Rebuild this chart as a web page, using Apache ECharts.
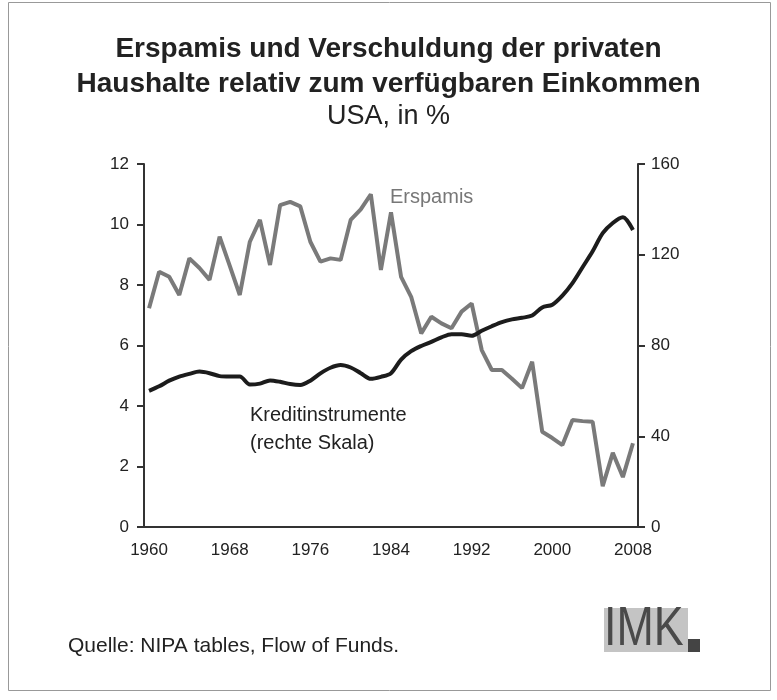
<!DOCTYPE html>
<html>
<head>
<meta charset="utf-8">
<script src="https://cdn.jsdelivr.net/npm/echarts@6/dist/echarts.min.js"></script>
<style>
  html, body { margin: 0; padding: 0; background: #fff; }
  #chart { width: 777px; height: 700px; }
</style>
</head>
<body>
<div id="chart"></div>
<script>
  // Jahre 1960 - 2008
  const years = [];
  for (let y = 1960; y <= 2008; y++) years.push(String(y));

  // Sparquote, % des verfügbaren Einkommens (linke Skala)
  const erspamis = [
    7.23, 8.44, 8.27, 7.67, 8.88, 8.56, 8.17, 9.6, 8.64, 7.67,
    9.43, 10.15, 8.66, 10.64, 10.75, 10.6, 9.43, 8.77, 8.88, 8.83,
    10.15, 10.5, 11.0, 8.5, 10.4, 8.27, 7.61, 6.4, 6.95, 6.73,
    6.57, 7.12, 7.39, 5.85, 5.19, 5.19, 4.9, 4.59, 5.46, 3.15,
    2.94, 2.71, 3.54, 3.5, 3.48, 1.35, 2.45, 1.65, 2.77
  ];

  // Kreditinstrumente, % des verfügbaren Einkommens (rechte Skala)
  const kredit = [
    60, 62, 64.5, 66.3, 67.5, 68.5, 67.8, 66.5, 66.3, 66.3,
    62.8, 63.2, 64.6, 64, 63, 62.6, 64.5, 67.7, 70.2, 71.4,
    70.3, 67.8, 65.3, 66.2, 67.8, 73.8, 77.5, 79.8, 81.6, 83.6,
    85, 85, 84.3, 86.5, 88.5, 90.3, 91.5, 92.2, 93.2, 96.8,
    98, 102, 107.5, 114.5, 121.5, 129.5, 134, 136.5, 130.9
  ];

  const font = "'Liberation Sans', Arial, sans-serif";
  const ink = '#222';

  const chart = echarts.init(document.getElementById('chart'));

  const option = {
    backgroundColor: '#fff',
    animation: false,
    title: {
      text: 'Erspamis und Verschuldung der privaten\nHaushalte relativ zum verfügbaren Einkommen',
      subtext: 'USA, in %',
      left: 'center',
      top: 27,
      itemGap: 0,
      textStyle: { fontFamily: font, fontSize: 28, fontWeight: 'bold', color: ink, lineHeight: 35 },
      subtextStyle: { fontFamily: font, fontSize: 27, color: ink, lineHeight: 30 }
    },
    grid: { left: 144, right: 139, top: 164, bottom: 173 },
    xAxis: {
      type: 'category',
      data: years,
      boundaryGap: true,
      axisLine: { lineStyle: { color: '#333', width: 2 } },
      axisTick: { interval: 7, length: 7, lineStyle: { color: '#333', width: 2 } },
      axisLabel: { interval: 7, margin: 15, fontFamily: font, fontSize: 17, color: ink }
    },
    yAxis: [
      {
        type: 'value', min: 0, max: 12, interval: 2,
        axisLine: { show: true, lineStyle: { color: '#333', width: 2 } },
        axisTick: { show: true, length: 7, lineStyle: { color: '#333', width: 2 } },
        splitLine: { show: false },
        axisLabel: { margin: 15, fontFamily: font, fontSize: 17, color: ink }
      },
      {
        type: 'value', min: 0, max: 160, interval: 40, position: 'right',
        axisLine: { show: true, lineStyle: { color: '#333', width: 2 } },
        axisTick: { show: true, length: 7, lineStyle: { color: '#333', width: 2 } },
        splitLine: { show: false },
        axisLabel: { margin: 13, fontFamily: font, fontSize: 17, color: ink }
      }
    ],
    series: [
      {
        name: 'Erspamis',
        type: 'line',
        yAxisIndex: 0,
        data: erspamis,
        symbol: 'none',
        lineStyle: { color: '#7a7a7a', width: 4 }
      },
      {
        name: 'Kreditinstrumente',
        type: 'line',
        yAxisIndex: 1,
        data: kredit,
        symbol: 'none',
        smooth: 0.3,
        lineStyle: { color: '#1c1c1c', width: 4 }
      }
    ],
    graphic: [
      { type: 'rect', shape: { x: 8.5, y: 2.5, width: 762, height: 688 }, style: { fill: 'none', stroke: '#999', lineWidth: 1 } },
      { type: 'text', left: 390, top: 187, style: { text: 'Erspamis', fontFamily: font, fontSize: 20, fill: '#777' } },
      { type: 'text', left: 250, top: 401, style: { text: 'Kreditinstrumente\n(rechte Skala)', fontFamily: font, fontSize: 20, lineHeight: 28, fill: ink } },
      { type: 'text', left: 68, top: 636, style: { text: 'Quelle: NIPA tables, Flow of Funds.', fontFamily: font, fontSize: 21, fill: ink } },
      { type: 'rect', shape: { x: 604, y: 608, width: 84, height: 44 }, style: { fill: '#c4c4c4' } },
      { type: 'text', x: 604, y: 602, scaleX: 0.8, style: { text: 'IMK', fontFamily: font, fontSize: 56, fill: '#4a4a4a' } },
      { type: 'rect', shape: { x: 688, y: 639, width: 12, height: 13 }, style: { fill: '#444' } }
    ]
  };

  chart.setOption(option);
</script>
</body>
</html>
